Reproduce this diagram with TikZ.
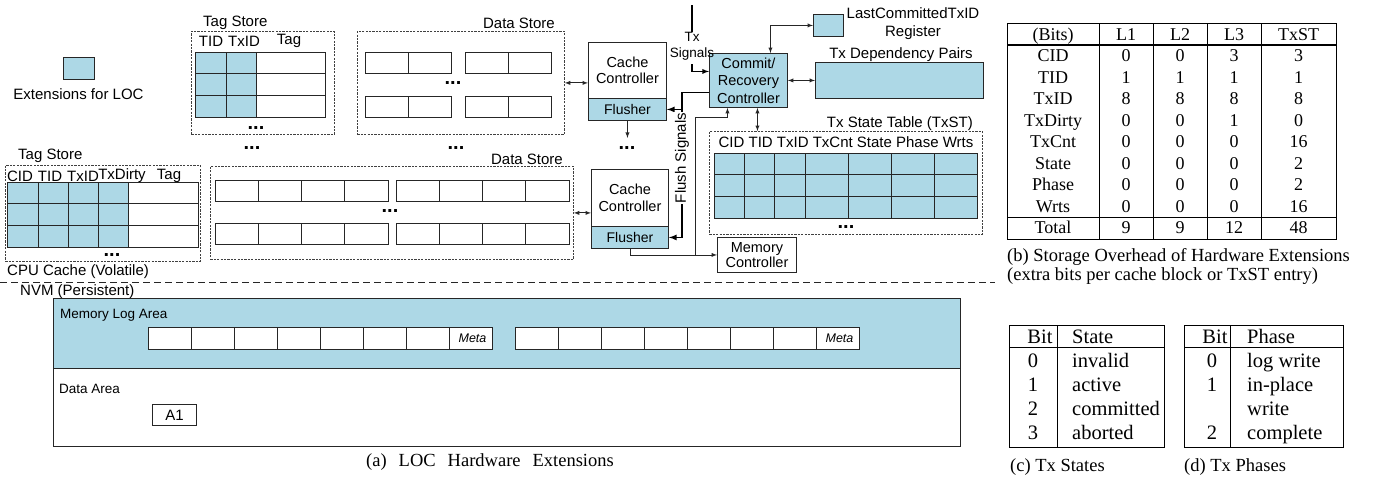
\documentclass[tikz,border=0pt]{standalone}
\usepackage{fontspec}
\setmainfont{Liberation Serif}
\setsansfont{Liberation Sans}

\definecolor{locblue}{RGB}{173,216,230}

\tikzset{
  lbl/.style={font=\sffamily\fontsize{15}{18}\selectfont, inner sep=0pt},
  lblsmall/.style={font=\sffamily\fontsize{13.5}{16}\selectfont, inner sep=0pt},
  ctrl/.style={draw=black!85, line width=0.9pt, inner sep=0pt, anchor=north west, align=center,
               font=\sffamily\fontsize{14.5}{16.5}\selectfont},
  storebox/.style={draw=black!75, line width=0.8pt, dash pattern=on 2.2pt off 1.2pt, inner sep=0pt, anchor=north west},
  blockcell/.style={draw=black!85, line width=0.9pt},
  moredots/.style={font=\sffamily\bfseries\fontsize{20}{20}\selectfont, inner sep=0pt},
  tabtxt/.style={font=\fontsize{18}{20}\selectfont, inner sep=0pt},
  tabbig/.style={font=\fontsize{20.5}{22}\selectfont, inner sep=0pt},
  capt/.style={font=\fontsize{18.5}{20}\selectfont, inner sep=0pt},
  conn/.style={draw=black!85, line width=0.9pt},
}

\begin{document}
\begin{tikzpicture}[x=1pt,y=-1pt]
\useasboundingbox (0,0) rectangle (1375,477);

%legend
\node[ctrl, fill=locblue, minimum width=31pt, minimum height=22pt] (legbox) at (63,57) {};
\node[lbl] (legtxt) at (78.5,94) {Extensions for LOC};

%tag store (upper)
\node[storebox, minimum width=143pt, minimum height=103pt] (ts1) at (191,31) {};
\node[lbl, anchor=west] (ts1lbl) at (203,23) {Tag Store};
\node[lbl] (ts1tid) at (211,41) {TID};
\node[lbl] (ts1txid) at (244,41) {TxID};
\node[lbl] (ts1tag) at (289,41) {Tag};
\path[fill=locblue] (195,52) rectangle (256,117);
\foreach \r in {0,1,2}
  \path[blockcell] (195,52+21.7*\r) rectangle (325,73.7+21.7*\r);
\foreach \x in {226,256}
  \path[blockcell] (\x,52) -- (\x,117);
\node[moredots] (ts1dots) at (256,128) {...};

%data store (upper)
\node[storebox, minimum width=207pt, minimum height=103pt] (ds1) at (357,31) {};
\node[lbl, anchor=east] (ds1lbl) at (555,23) {Data Store};
\foreach \y in {52,96}
  \foreach \x in {365,408,465,508}
    \path[blockcell] (\x,\y) rectangle +(43,21.5);
\node[moredots] (ds1dots) at (453,83) {...};
\node[moredots] (tsdots) at (252,148) {...};
\node[moredots] (dsdots) at (456,148) {...};

%cache controller (upper)
\node[ctrl, minimum width=78pt, minimum height=56pt] (cc1) at (588,42) {Cache\\Controller};
\node[ctrl, fill=locblue, minimum width=78pt, minimum height=22pt, font=\sffamily\fontsize{14}{16}\selectfont] (fl1) at (588,98) {Flusher};
\draw[conn, latex-latex] (ds1.east) -- (ds1.east -| cc1.west);
\draw[conn, -latex] (fl1.south) -- ++(0,17) coordinate (fl1end);
\node[moredots] (ccdots) at (627,148) {...};

%tag store (lower)
\node[storebox, minimum width=195pt, minimum height=96pt] (ts2) at (5,165) {};
\node[lbl, anchor=west] (ts2lbl) at (18,156) {Tag Store};
\node[lbl] (ts2cid) at (20,176) {CID};
\node[lbl] (ts2tid) at (50,176) {TID};
\node[lbl] (ts2txid) at (83,176) {TxID};
\node[lbl] (ts2dirty) at (122,176) {TxDirty};
\node[lbl] (ts2tag) at (169,176) {Tag};
\path[fill=locblue] (7,182) rectangle (128,247);
\foreach \r in {0,1,2}
  \path[blockcell] (7,182+21.7*\r) rectangle (198,203.7+21.7*\r);
\foreach \x in {38,68,98,128}
  \path[blockcell] (\x,182) -- (\x,247);
\node[moredots] (ts2dots) at (112,255) {...};

%data store (lower)
\node[storebox, minimum width=363pt, minimum height=93pt] (ds2) at (210,166) {};
\node[lbl, anchor=east] (ds2lbl) at (563,159) {Data Store};
\foreach \y in {180,223}
  \foreach \i in {0,...,3} {
    \path[blockcell] (215+43.25*\i,\y) rectangle +(43.25,21.5);
    \path[blockcell] (396+43.25*\i,\y) rectangle +(43.25,21.5);
  }
\node[moredots] (ds2dots) at (390,211) {...};

%cache controller (lower)
\node[ctrl, minimum width=77pt, minimum height=57pt] (cc2) at (591,169) {Cache\\Controller};
\node[ctrl, fill=locblue, minimum width=77pt, minimum height=22pt, font=\sffamily\fontsize{14}{16}\selectfont] (fl2) at (591,226) {Flusher};
\draw[conn, latex-latex] (ds2.east) -- (ds2.east -| cc2.west);

%commit / recovery
\node[ctrl, fill=locblue, minimum width=78pt, minimum height=54pt, font=\sffamily\fontsize{14.5}{17.5}\selectfont] (commit) at (709,53) {Commit/\\Recovery\\Controller};
\node[ctrl, fill=locblue, minimum width=30pt, minimum height=22pt] (lastreg) at (813,14) {};
\node[lbl, align=center] (lastlbl) at (913,24) {LastCommittedTxID\\Register};
\node[ctrl, fill=locblue, minimum width=168pt, minimum height=36pt] (deppairs) at (815,62) {};
\node[lbl] (deplbl) at (901,55) {Tx Dependency Pairs};

%TxST
\node[storebox, minimum width=273pt, minimum height=103pt] (txst) at (709,131) {};
\node[lbl, anchor=east] (txstlbl) at (973,124) {Tx State Table (TxST)};
\node[lbl] (txsthead) at (846,142) {CID TID TxID TxCnt State Phase Wrts};
\path[fill=locblue] (714,153) rectangle (977,218);
\foreach \r in {0,1,2}
  \path[blockcell] (714,153+21.7*\r) rectangle (977,174.7+21.7*\r);
\foreach \x in {744,774,805,848,891,934}
  \path[blockcell] (\x,153) -- (\x,218);
\node[moredots] (txstdots) at (846,227) {...};

%memory controller
\node[ctrl, minimum width=79pt, minimum height=35pt, font=\sffamily\fontsize{14.5}{14.5}\selectfont] (memctl) at (717,237) {Memory\\Controller};

%signals
\coordinate (txin) at (692,5);
\node[lblsmall, align=center] (txsig) at (692,46) {Tx\\Signals};
\draw[line width=1.6pt] (txin) -- (txsig.north);
\draw[-latex, line width=1.3pt] ([yshift=-4pt]txsig.south) |- ([yshift=9pt]commit.west);
\draw[conn, latex-latex] ([xshift=22pt]commit.north) |- (lastreg.west);
\draw[conn, latex-latex] (commit.east) -- (deppairs.west);
\draw[conn, latex-latex] ([xshift=9pt]commit.south) -- ([xshift=9pt]commit.south |- txst.north);

\coordinate (fsx) at (682,0);
\draw[-latex, line width=1.6pt] ([yshift=-12pt]commit.west) -| (fsx |- fl2.east) -- (fl2.east);
\draw[-latex, line width=1.6pt] (fsx |- fl1.east) -- (fl1.east);
\node[lbl, rotate=90, fill=white, inner sep=1pt] (fslbl) at (682,158) {Flush Signals};

\coordinate (mcx) at (695,0);
\draw[conn, -latex] (fl2.south) |- (memctl.west);
\draw[conn, -latex] (mcx |- memctl.west) |- ([xshift=-21pt,yshift=-10pt]commit.south) -- ([xshift=-21pt]commit.south);

%volatile / persistent
\node[lbl, anchor=west] (cpulbl) at (7,272) {CPU Cache (Volatile)};
\path[draw=black!85, line width=0.9pt, dash pattern=on 7pt off 4pt] (0,282) -- (995,282);
\node[lbl, anchor=west] (nvmlbl) at (20,292) {NVM (Persistent)};

%NVM
\node[ctrl, fill=locblue, minimum width=907pt, minimum height=70pt] (logarea) at (53,298) {};
\node[ctrl, minimum width=907pt, minimum height=78pt] (dataarea) at (53,368) {};
\node[lblsmall, anchor=west] (loglbl) at (60,315) {Memory Log Area};
\node[lblsmall, anchor=west] (datalbl) at (59,389) {Data Area};
\foreach \x in {148,515}
  \foreach \i in {0,...,7}
    \path[blockcell, fill=white] (\x+43.1*\i,327) rectangle +(43.1,22);
\node[font=\sffamily\itshape\fontsize{12.5}{14}\selectfont, inner sep=0pt] (meta1) at (472.5,338) {Meta};
\node[font=\sffamily\itshape\fontsize{12.5}{14}\selectfont, inner sep=0pt] (meta2) at (839.5,338) {Meta};
\node[ctrl, minimum width=44pt, minimum height=21pt, font=\sffamily\fontsize{15}{17}\selectfont] (a1) at (152,404) {A1};

\node[capt, font={\fontsize{18.5}{20}\selectfont\spaceskip=12pt}] (capa) at (490,462) {(a) LOC Hardware Extensions};

%table b
\path[draw=black, line width=0.9pt] (1007,23) rectangle (1336,239);
\foreach \x in {1099,1153,1207,1261}
  \path[draw=black, line width=0.9pt] (\x,23) -- (\x,239);
\path[draw=black, line width=1.1pt] (1007,45) -- (1336,45);
\path[draw=black, line width=0.9pt] (1007,217) -- (1336,217);
\node[tabtxt, anchor=base] (b-0-0) at (1053,40) {(Bits)};
\node[tabtxt, anchor=base] (b-0-1) at (1126,40) {L1};
\node[tabtxt, anchor=base] (b-0-2) at (1180,40) {L2};
\node[tabtxt, anchor=base] (b-0-3) at (1234,40) {L3};
\node[tabtxt, anchor=base] (b-0-4) at (1298.5,40) {TxST};
\foreach \n/\a/\b/\c/\d [count=\i] in {CID/0/0/3/3, TID/1/1/1/1, TxID/8/8/8/8, TxDirty/0/0/1/0, TxCnt/0/0/0/16, State/0/0/0/2, Phase/0/0/0/2, Wrts/0/0/0/16, Total/9/9/12/48} {
  \node[tabtxt, anchor=base] (b-\i-0) at (1053,40+21.5*\i) {\n};
  \node[tabtxt, anchor=base] (b-\i-1) at (1126,40+21.5*\i) {\a};
  \node[tabtxt, anchor=base] (b-\i-2) at (1180,40+21.5*\i) {\b};
  \node[tabtxt, anchor=base] (b-\i-3) at (1234,40+21.5*\i) {\c};
  \node[tabtxt, anchor=base] (b-\i-4) at (1298.5,40+21.5*\i) {\d};
}
\node[capt, anchor=base west] (capb1) at (1007,261) {(b) Storage Overhead of Hardware Extensions};
\node[capt, anchor=base west] (capb2) at (1007,280) {(extra bits per cache block or TxST entry)};

%table c
\path[draw=black, line width=0.9pt] (1009,325) rectangle (1164,447);
\path[draw=black, line width=0.9pt] (1057,325) -- (1057,447);
\path[draw=black, line width=0.9pt] (1009,347) -- (1164,347);
\node[tabbig, anchor=base] (c-0-0) at (1040,343) {Bit};
\node[tabbig, anchor=base west] (c-0-1) at (1072,343) {State};
\foreach \b/\s [count=\i] in {0/invalid, 1/active, 2/committed, 3/aborted} {
  \node[tabbig, anchor=base] (c-\i-0) at (1033,343+24*\i) {\b};
  \node[tabbig, anchor=base west] (c-\i-1) at (1072,343+24*\i) {\s};
}
\node[capt, anchor=base west] (capc) at (1010,471) {(c) Tx States};

%table d
\path[draw=black, line width=0.9pt] (1184,325) rectangle (1343,447);
\path[draw=black, line width=0.9pt] (1230,325) -- (1230,447);
\path[draw=black, line width=0.9pt] (1184,347) -- (1343,347);
\node[tabbig, anchor=base] (d-0-0) at (1215,343) {Bit};
\node[tabbig, anchor=base west] (d-0-1) at (1247,343) {Phase};
\foreach \b/\s [count=\i] in {0/log write, 1/in-place, /write, 2/complete} {
  \node[tabbig, anchor=base] (d-\i-0) at (1212,343+24*\i) {\b};
  \node[tabbig, anchor=base west] (d-\i-1) at (1247,343+24*\i) {\s};
}
\node[capt, anchor=base west] (capd) at (1184,471) {(d) Tx Phases};

\end{tikzpicture}
\end{document}
